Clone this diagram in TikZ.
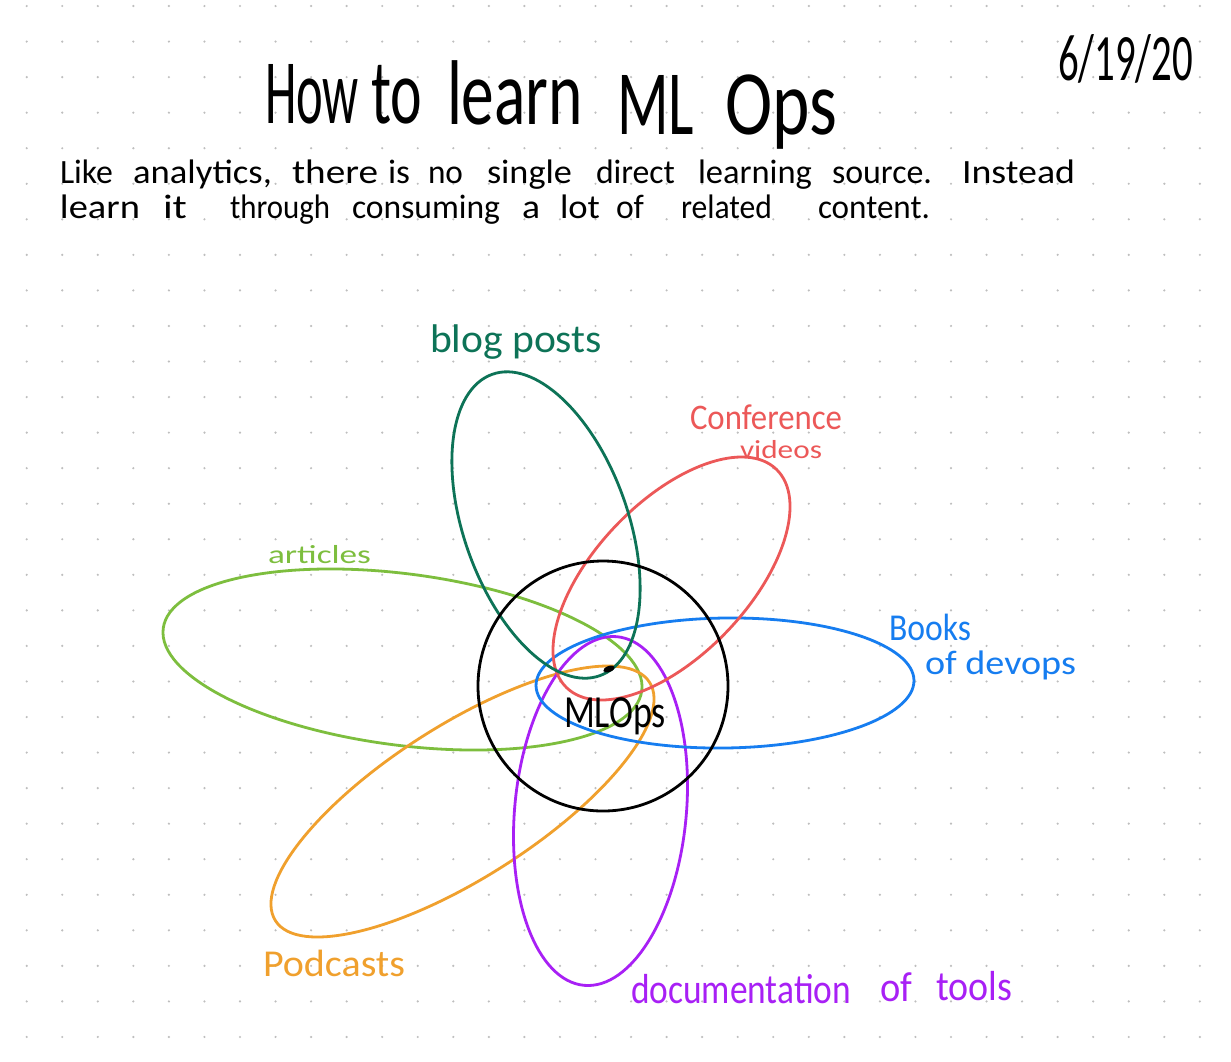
\documentclass[tikz,border=0pt]{standalone}
\usepackage{fontspec}
\setmainfont{Carlito}
\usepackage{graphicx}
\newdimen\pxu \pxu=0.5pt
\newcommand\hw[2]{\resizebox{#1\pxu}{\height}{#2}}
\newcommand\fwh[3]{\resizebox{#1\pxu}{#2\pxu}{#3}}
\definecolor{cteal}{RGB}{13,115,87}
\definecolor{cred}{RGB}{236,88,88}
\definecolor{clime}{RGB}{125,190,62}
\definecolor{cblue}{RGB}{22,125,240}
\definecolor{cpurple}{RGB}{168,32,245}
\definecolor{corange}{RGB}{240,160,45}
\definecolor{dotgray}{RGB}{190,190,190}
\begin{document}
\begin{tikzpicture}[x=0.5pt,y=-0.5pt,
  ell/.style={line width=1.4pt},
  lbl/.style={anchor=base west, inner sep=0pt, outer sep=0pt},
  titlew/.style={lbl, font=\fontsize{46pt}{48pt}\selectfont},
  body/.style={lbl, font=\fontsize{17pt}{18pt}\selectfont}]
\fill[white] (0,0) rectangle (1231,1061);
\useasboundingbox (0,0) rectangle (1231,1061);
% dot grid
\foreach \i in {0,...,33}{\foreach \j in {0,...,29}{
  \fill[dotgray] ({26.7+35.55*\i},{6+35.55*\j}) circle (1.2);}}
% title
\node[titlew] (t1) at (265,123) {\hw{94}{How}};
\node[titlew] (t2) at (371,123) {\hw{51}{to}};
\node[titlew] (t3) at (447,124) {\hw{136}{learn}};
\node[titlew] (t4) at (617,134) {\hw{77}{ML}};
\node[titlew] (t5) at (725,134) {\hw{112}{Ops}};
\node[lbl, font=\fontsize{30pt}{30pt}\selectfont] (date) at (1058,80) {\fwh{135}{46}{6/19/20}};
% body line 1
\node[body] (a1) at (60,183) {\hw{53}{Like}};
\node[body] (a2) at (133,183) {\hw{139}{analytics,}};
\node[body] (a3) at (292,183) {\hw{86}{there}};
\node[body] (a4) at (388,183) {\hw{22}{is}};
\node[body] (a5) at (428,183) {\hw{35}{no}};
\node[body] (a6) at (487,183) {\hw{85}{single}};
\node[body] (a7) at (596,183) {\hw{79}{direct}};
\node[body] (a8) at (698,183) {\hw{114}{learning}};
\node[body] (a9) at (832,183) {\hw{100}{source.}};
\node[body] (a10) at (962,183) {\hw{113}{Instead}};
% body line 2
\node[body] (b1) at (60,218) {\hw{80}{learn}};
\node[body] (b2) at (163,218) {\hw{24}{it}};
\node[body] (b3) at (230,218) {\hw{100}{through}};
\node[body] (b4) at (352,218) {\hw{148}{consuming}};
\node[body] (b5) at (522,218) {\hw{18}{a}};
\node[body] (b6) at (560,218) {\hw{40}{lot}};
\node[body] (b7) at (616,218) {\hw{28}{of}};
\node[body] (b8) at (681,218) {\hw{91}{related}};
\node[body] (b9) at (818,218) {\hw{112}{content.}};
% ellipses
\draw[ell, clime, rotate around={-7.42:(402.5,659.5)}] (402.5,659.5) ellipse [x radius=241.3, y radius=85.7];
\draw[ell, corange, rotate around={32.5:(462.5,801.5)}] (462.5,801.5) ellipse [x radius=221.8, y radius=76.4];
\draw[ell, cpurple, rotate around={84.6:(600.5,811)}] (600.5,811) ellipse [x radius=175.1, y radius=85.8];
\draw[ell, cblue, rotate around={0.8:(725,683)}] (725,683) ellipse [x radius=189, y radius=65];
\draw[ell, cred, rotate around={46.2:(671.5,578.5)}] (671.5,578.5) ellipse [x radius=151.4, y radius=76.7];
\draw[ell, cteal, rotate around={-70.35:(546,525)}] (546,525) ellipse [x radius=160, y radius=82];
\draw[ell, black] (603,686) circle (125);
\fill[black, rotate around={20:(609,669)}] (609,669) ellipse [x radius=6, y radius=3];
% labels
\node[lbl, cteal, font=\fontsize{20pt}{20pt}\selectfont] (blog) at (430,352) {\hw{172}{blog posts}};
\node[lbl, cred, font=\fontsize{18pt}{18pt}\selectfont] (conf) at (690,429) {\hw{152}{Conference}};
\node[lbl, cred, font=\fontsize{13pt}{13pt}\selectfont] (vid) at (740,458) {\hw{82}{videos}};
\node[lbl, clime, font=\fontsize{13pt}{13pt}\selectfont] (art) at (268,563) {\hw{103}{articles}};
\node[lbl, cblue, font=\fontsize{19pt}{19pt}\selectfont] (books) at (889,640) {\hw{82}{Books}};
\node[lbl, cblue, font=\fontsize{17pt}{17pt}\selectfont] (devops) at (925,674) {\hw{151}{of devops}};
\node[lbl, black, font=\fontsize{23pt}{23pt}\selectfont] (mlops) at (564,727) {\hw{102}{MLOps}};
\node[lbl, corange, font=\fontsize{19pt}{19pt}\selectfont] (pod) at (263,976) {\hw{142}{Podcasts}};
\node[lbl, cpurple, font=\fontsize{21pt}{21pt}\selectfont] (doc1) at (631,1003) {\hw{220}{documentation}};
\node[lbl, cpurple, font=\fontsize{21pt}{21pt}\selectfont] (doc2) at (880,1001) {\hw{32}{of}};
\node[lbl, cpurple, font=\fontsize{21pt}{21pt}\selectfont] (doc3) at (936,1000) {\hw{76}{tools}};
\end{tikzpicture}
\end{document}
